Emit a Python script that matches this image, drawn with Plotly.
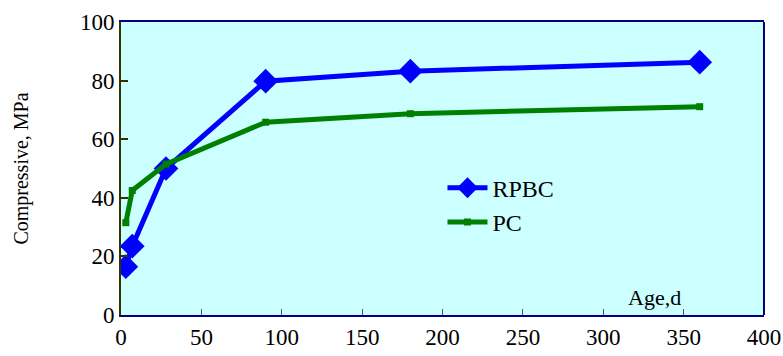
import plotly.graph_objects as go

ages = [3, 7, 28, 90, 180, 360]
rpbc = [16.5, 23.5, 50.0, 79.8, 83.2, 86.3]
pc = [31.5, 42.5, 51.5, 65.8, 68.7, 71.1]
x_ticks = [0, 50, 100, 150, 200, 250, 300, 350, 400]
y_ticks = [0, 20, 40, 60, 80, 100]

FONT = "Liberation Serif"

fig = go.Figure()
fig.add_trace(go.Scatter(
    x=ages, y=rpbc, name="RPBC", mode="lines+markers",
    line=dict(color="#0000FF", width=5),
    marker=dict(symbol="diamond", size=19, color="#0000FF"),
))
fig.add_trace(go.Scatter(
    x=ages, y=pc, name="PC", mode="lines+markers",
    line=dict(color="#008000", width=5),
    marker=dict(symbol="square", size=7, color="#008000"),
))

fig.update_layout(
    width=783, height=356,
    margin=dict(l=121, r=19, t=22, b=41, autoexpand=False),
    paper_bgcolor="white", plot_bgcolor="#CCFFFF",
    font=dict(family=FONT, size=23, color="black"),
    showlegend=True,
    legend=dict(x=0.5, y=0.375, xanchor="left", yanchor="middle",
                bgcolor="rgba(0,0,0,0)", font=dict(size=24),
                tracegroupgap=0, itemwidth=40),
    xaxis=dict(range=[0, 400], tickvals=x_ticks, showgrid=False, zeroline=False,
               automargin=False,
               showline=True, linecolor="#000080", linewidth=2, mirror=True,
               ticks="inside", ticklen=6, tickcolor="#555555", tickwidth=1),
    yaxis=dict(range=[0, 100], tickvals=y_ticks, showgrid=False, zeroline=False,
               automargin=False,
               showline=True, linecolor="#333300", linewidth=2,
               ticks="inside", ticklen=7, tickcolor="#333300", tickwidth=2,
               title=dict(text="Compressive, MPa", font=dict(size=20), standoff=46)),
    shapes=[dict(type="line", xref="paper", yref="paper", x0=1, x1=1, y0=0, y1=1,
                 line=dict(color="#000080", width=2))],
    annotations=[dict(text="Age,d", xref="paper", yref="paper", x=0.83, y=0.01,
                      xanchor="center", yanchor="bottom", showarrow=False,
                      font=dict(size=22))],
)

fig.write_html("out.html")
